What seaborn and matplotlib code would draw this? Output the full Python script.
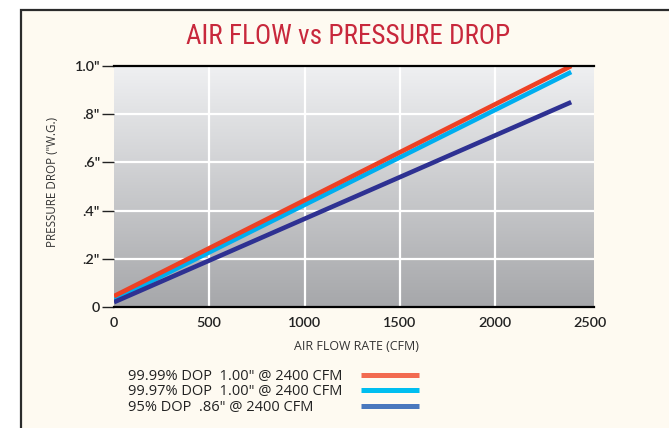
import numpy as np
import pandas as pd
import matplotlib
matplotlib.use("Agg")
import matplotlib.pyplot as plt
import seaborn as sns
from matplotlib import font_manager
from matplotlib.colors import LinearSegmentedColormap
from matplotlib.lines import Line2D
from matplotlib.patches import Rectangle

# data
air_flow = [0, 2400]
series_names = [
    '99.99% DOP  1.00" @ 2400 CFM',
    '99.97% DOP  1.00" @ 2400 CFM',
    '95% DOP  .86" @ 2400 CFM',
]
drop_9999 = [0.045, 1.0]
drop_9997 = [0.03, 0.975]
drop_95 = [0.02, 0.85]

x_ticks = [0, 500, 1000, 1500, 2000, 2500]
y_ticks = [0, 0.2, 0.4, 0.6, 0.8, 1.0]
y_tick_labels = ['0', '.2"', '.4"', '.6"', '.8"', '1.0"']

line_colors = ['#ee4124', '#00aeef', '#2e3192']
legend_colors = ['#f26a50', '#00bef0', '#4a78be']

df = pd.DataFrame({
    'flow': air_flow * 3,
    'drop': drop_9999 + drop_9997 + drop_95,
    'series': [n for n in series_names for _ in air_flow],
})

sns.set_style("white")
names = {f.name for f in font_manager.fontManager.ttflist}
title_font = next((n for n in ['Liberation Sans Narrow', 'Roboto Condensed',
                               'Open Sans Condensed', 'Noto Sans Condensed']
                   if n in names), 'Liberation Sans')
plt.rcParams['font.family'] = ['Open Sans', 'DejaVu Sans']

fig = plt.figure(figsize=(6.69, 4.28), dpi=100, facecolor='white')
W, H = 669, 428

# card frame
fig.add_artist(Rectangle((21 / W, -0.1), 1.1, 1.1 - 10 / H,
                         transform=fig.transFigure, facecolor='#fefaf1',
                         edgecolor='#2b2b2b', lw=1.6, zorder=-10))

ax = fig.add_axes([114 / W, 1 - 307 / H, (593.5 - 114) / W, (307 - 66) / H])
ax.patch.set_alpha(0)

# grey gradient background
cmap = LinearSegmentedColormap.from_list('bg', ['#eff0f2', '#a6a7aa'])
grad = np.linspace(0, 1, 256).reshape(-1, 1)
ax.imshow(grad, extent=[0, 1, 0, 1], transform=ax.transAxes, aspect='auto',
          cmap=cmap, zorder=0)

draw_order = [1, 0, 2]
for i in draw_order:
    sub = df[df['series'] == series_names[i]]
    sns.lineplot(data=sub, x='flow', y='drop', color=line_colors[i], lw=3.3,
                 ax=ax, legend=False, zorder=3, solid_capstyle='butt')

ax.set_xlim(0, 2517)
ax.set_ylim(0, 1.0)
ax.set_xticks(x_ticks)
ax.set_xticklabels([str(t) for t in x_ticks])
ax.set_yticks(y_ticks)
ax.set_yticklabels(y_tick_labels)

ax.set_axisbelow(True)
ax.grid(True, color='white', lw=1.6, zorder=1)
for gl in [ax.xaxis.get_gridlines()[0], ax.xaxis.get_gridlines()[-1],
           ax.yaxis.get_gridlines()[0], ax.yaxis.get_gridlines()[-1]]:
    gl.set_visible(False)

for s in ['left', 'right']:
    ax.spines[s].set_visible(False)
for s in ['top', 'bottom']:
    ax.spines[s].set_color('black')
    ax.spines[s].set_linewidth(1.6)
    ax.spines[s].set_zorder(4)

ax.tick_params(axis='y', left=True, length=8.5, width=1, color='#222222',
               pad=1.5, labelsize=10.4, labelcolor='#222222')
ax.tick_params(axis='x', bottom=False, length=0, pad=7, labelsize=10.4,
               labelcolor='#222222')
for lab in ax.get_xticklabels() + ax.get_yticklabels():
    lab.set_family(['Lato', 'DejaVu Sans'])
    lab.set_fontweight('semibold')

ax.set_xlabel('AIR FLOW RATE (CFM)', fontsize=8.9, color='#333333')
ax.set_ylabel('PRESSURE DROP ("W.G.)', fontsize=8.4, color='#333333')
ax.yaxis.set_label_coords(-0.115, 0.52)
ax.xaxis.set_label_coords(0.505, -0.135)

fig.text(348 / W, 1 - 37 / H, 'AIR FLOW vs PRESSURE DROP', ha='center',
         va='center', fontsize=19.5, color='#c8283c',
         family=[title_font, 'DejaVu Sans'])

# legend: text column and swatch column
fs = 10.5
txt_handles = [Line2D([], [], lw=0, alpha=0) for _ in series_names]
leg1 = fig.legend(txt_handles, series_names, loc='upper left',
                  bbox_to_anchor=(128 / W, 1 - 369 / H), frameon=False,
                  fontsize=fs, handlelength=0, handletextpad=0, borderpad=0,
                  borderaxespad=0, labelspacing=0.03, labelcolor='#222222')
sw_handles = [Line2D([], [], color=c, lw=3.6, solid_capstyle='butt')
              for c in legend_colors]
leg2 = fig.legend(sw_handles, [' '] * 3, loc='upper left',
                  bbox_to_anchor=(360.5 / W, 1 - 369 / H), frameon=False,
                  fontsize=fs, handlelength=58 / (fs * 100 / 72),
                  handletextpad=0, borderpad=0, borderaxespad=0,
                  labelspacing=0.03)

fig.savefig('out.png', dpi=100, facecolor='white')
